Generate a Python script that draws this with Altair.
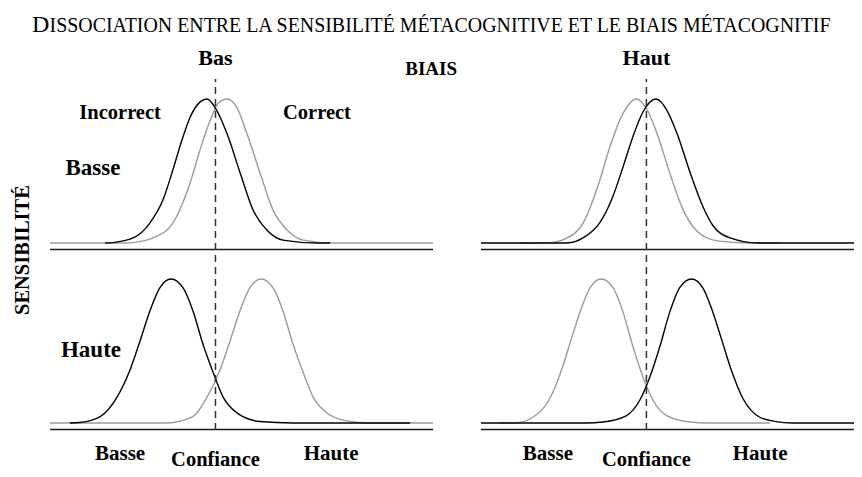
import altair as alt
import pandas as pd

# ---- Data -----------------------------------------------------------------
# Confidence: position across a panel (0 = left edge, 100 = right edge)
# Density: curve height relative to its peak (peak = 1)

# Bias "Bas", sensitivity "Basse" (top-left)
bb_inc_c = [14.4, 16.4, 21.7, 26.1, 29.5, 32.1, 34.5, 36.6, 39.2, 41.0, 43.1, 46.2, 49.6, 53.0, 56.6, 60.8, 69.7, 73.1]
bb_inc_d = [0, 0.003, 0.035, 0.14, 0.30, 0.51, 0.72, 0.875, 0.98, 1, 0.94, 0.76, 0.49, 0.23, 0.09, 0.02, 0, 0]
bb_cor_c = [0, 19.6, 21.7, 26.9, 32.1, 36.6, 39.2, 41.8, 43.9, 46.2, 48.8, 51.4, 54.8, 58.2, 61.9, 66.1, 73.9, 100]
bb_cor_d = [0, 0, 0.003, 0.035, 0.14, 0.42, 0.65, 0.85, 0.97, 1, 0.94, 0.76, 0.49, 0.23, 0.09, 0.02, 0, 0]

# Bias "Haut", sensitivity "Basse" (top-right)
hb_cor_c = [10.2, 18.0, 22.5, 26.7, 30.6, 33.7, 36.9, 40.6, 43.5, 46.1, 49.5, 52.8, 56.5, 61.7, 69.5, 78.1]
hb_cor_d = [0, 0.003, 0.035, 0.14, 0.40, 0.67, 0.89, 1, 0.92, 0.75, 0.47, 0.23, 0.08, 0.015, 0, 0]
hb_inc_c = [0, 21.9, 24.0, 26.6, 31.0, 34.4, 37.0, 39.7, 42.3, 45.7, 48.6, 51.2, 54.6, 58.0, 60.6, 65.1, 72.1, 98.9]
hb_inc_d = [0, 0, 0.005, 0.035, 0.14, 0.32, 0.52, 0.74, 0.91, 1, 0.92, 0.76, 0.49, 0.25, 0.12, 0.035, 0, 0]

# Bias "Bas", sensitivity "Haute" (bottom-left)
bh_inc_c = [5.2, 7.8, 13.1, 17.5, 20.9, 23.5, 26.1, 28.7, 31.6, 34.7, 37.3, 39.9, 42.6, 45.2, 48.8, 54.8, 63.4, 94.0]
bh_inc_d = [0, 0.004, 0.045, 0.18, 0.37, 0.57, 0.78, 0.94, 1, 0.94, 0.78, 0.55, 0.35, 0.18, 0.07, 0.01, 0, 0]
bh_cor_c = [0, 30.0, 37.3, 41.0, 44.4, 47.0, 49.6, 52.2, 55.1, 58.2, 60.8, 63.4, 66.1, 68.7, 72.3, 77.5, 83.6, 100]
bh_cor_d = [0, 0, 0.045, 0.18, 0.37, 0.57, 0.78, 0.94, 1, 0.94, 0.78, 0.55, 0.35, 0.18, 0.07, 0.015, 0, 0]

# Bias "Haut", sensitivity "Haute" (bottom-right)
hh_cor_c = [5.0, 9.4, 13.6, 18.0, 21.2, 23.8, 26.4, 28.5, 31.4, 34.5, 37.1, 39.7, 42.3, 44.9, 48.6, 54.6, 59.0, 75.5]
hh_cor_d = [0, 0.003, 0.04, 0.17, 0.38, 0.60, 0.81, 0.94, 1, 0.94, 0.77, 0.53, 0.32, 0.16, 0.05, 0.007, 0, 0]
hh_inc_c = [0, 27.4, 31.9, 37.9, 41.5, 44.1, 46.7, 49.3, 51.9, 55.0, 57.9, 60.0, 62.6, 65.2, 68.4, 72.8, 77.0, 81.2, 98.9]
hh_inc_d = [0, 0, 0.007, 0.05, 0.16, 0.32, 0.53, 0.77, 0.94, 1, 0.94, 0.81, 0.60, 0.38, 0.17, 0.04, 0.01, 0, 0]

criterion = 43.2  # dashed decision criterion, panel confidence units

title_first = "D"
title_rest = "ISSOCIATION ENTRE LA SENSIBILITÉ MÉTACOGNITIVE ET LE BIAIS MÉTACOGNITIF"
bias_labels = ["Bas", "Haut"]
sens_labels = ["Basse", "Haute"]
conf_labels = ["Basse", "Haute"]

# ---- Layout (panel offsets in scale units) --------------------------------
COL_OFF = [0.0, 112.5]
ROW_OFF = {"Basse": 1.25, "Haute": 0.0}
PANEL_W = [100.0, 98.9]

curves = [
    ("bb_cor", 0, "Basse", bb_cor_c, bb_cor_d, "Correct"),
    ("bb_inc", 0, "Basse", bb_inc_c, bb_inc_d, "Incorrect"),
    ("hb_cor", 1, "Basse", hb_cor_c, hb_cor_d, "Correct"),
    ("hb_inc", 1, "Basse", hb_inc_c, hb_inc_d, "Incorrect"),
    ("bh_cor", 0, "Haute", bh_cor_c, bh_cor_d, "Correct"),
    ("bh_inc", 0, "Haute", bh_inc_c, bh_inc_d, "Incorrect"),
    ("hh_cor", 1, "Haute", hh_cor_c, hh_cor_d, "Correct"),
    ("hh_inc", 1, "Haute", hh_inc_c, hh_inc_d, "Incorrect"),
]
rows = []
for cid, col, row, cs, ds, kind in curves:
    for c, d in zip(cs, ds):
        rows.append({"id": cid, "kind": kind, "X": c + COL_OFF[col], "Y": d + ROW_OFF[row]})
df = pd.DataFrame(rows)

axes_rows = []
for col in range(2):
    for row in ["Basse", "Haute"]:
        axes_rows.append({"X": COL_OFF[col], "X2": COL_OFF[col] + PANEL_W[col], "Y": ROW_OFF[row] - 0.045})
df_axes = pd.DataFrame(axes_rows)

df_crit = pd.DataFrame([{"X": criterion + COL_OFF[col], "Y": -0.049, "Y2": 2.389} for col in range(2)])

xs = alt.Scale(domain=[-10.97, 209.9], nice=False, zero=False)
ys = alt.Scale(domain=[-0.3194, 2.882], nice=False, zero=False)
EX = alt.X("X:Q", scale=xs, axis=None)
EY = alt.Y("Y:Q", scale=ys, axis=None)
FONT = "Liberation Serif"

gray = alt.Chart(df[df.kind == "Correct"]).mark_line(
    interpolate="monotone", strokeWidth=1.4, color="#9a9a9a"
).encode(x=EX, y=EY, detail="id:N", order="X:Q")
black = alt.Chart(df[df.kind == "Incorrect"]).mark_line(
    interpolate="monotone", strokeWidth=1.4, color="#000000"
).encode(x=EX, y=EY, detail="id:N", order="X:Q")

axes = alt.Chart(df_axes).mark_rule(strokeWidth=1.5, color="#1a1a1a").encode(
    x=EX, x2="X2:Q", y=EY
)
crit = alt.Chart(df_crit).mark_rule(strokeWidth=1.5, color="#333333", strokeDash=[7, 5]).encode(
    x=EX, y=EY, y2="Y2:Q"
)


def texts(records, size, weight="bold", align="center", angle=0, baseline="alphabetic"):
    params = dict(font=FONT, fontSize=size, fontWeight=weight, align=align,
                  baseline=baseline, color="black")
    if angle:
        params["angle"] = angle
    return alt.Chart(pd.DataFrame(records)).mark_text(**params).encode(
        x=EX, y=EY, text="label:N"
    )


t_title1 = texts([{"X": -4.70, "Y": 2.715, "label": title_first}], 24, "normal", "left")
t_title2 = texts([{"X": -0.13, "Y": 2.715, "label": title_rest}], 19.9, "normal", "left")
t_bias = texts([
    {"X": criterion + COL_OFF[0], "Y": 2.483, "label": bias_labels[0]},
    {"X": criterion + COL_OFF[1], "Y": 2.483, "label": bias_labels[1]},
], 22)
t_biais = texts([{"X": 99.5, "Y": 2.417, "label": "BIAIS"}], 19)
t_kind = texts([
    {"X": 18.3, "Y": 2.108, "label": "Incorrect"},
    {"X": 69.7, "Y": 2.108, "label": "Correct"},
], 20.5)
t_sens = texts([
    {"X": 11.2, "Y": 1.722, "label": sens_labels[0]},
    {"X": 10.7, "Y": 0.458, "label": sens_labels[1]},
], 23)
t_sens_title = texts([{"X": -7.0, "Y": 1.201, "label": "SENSIBILITÉ"}], 20.5, angle=270, baseline="middle")
t_conf = texts([
    {"X": 18.3, "Y": -0.257, "label": conf_labels[0]},
    {"X": 73.4, "Y": -0.257, "label": conf_labels[1]},
    {"X": 130.0, "Y": -0.257, "label": conf_labels[0]},
    {"X": 185.4, "Y": -0.257, "label": conf_labels[1]},
], 21)
t_conf_title = texts([
    {"X": criterion + COL_OFF[0], "Y": -0.297, "label": "Confiance"},
    {"X": criterion + COL_OFF[1], "Y": -0.297, "label": "Confiance"},
], 20.5)

chart = alt.layer(
    axes, gray, black, crit,
    t_title1, t_title2, t_bias, t_biais, t_kind, t_sens, t_sens_title, t_conf, t_conf_title,
).properties(
    width=846, height=461, autosize=alt.AutoSizeParams(type="none"), padding=0,
    background="white",
).configure_view(stroke=None)

chart.save("out.html", embed_options={"renderer": "svg", "actions": False})
